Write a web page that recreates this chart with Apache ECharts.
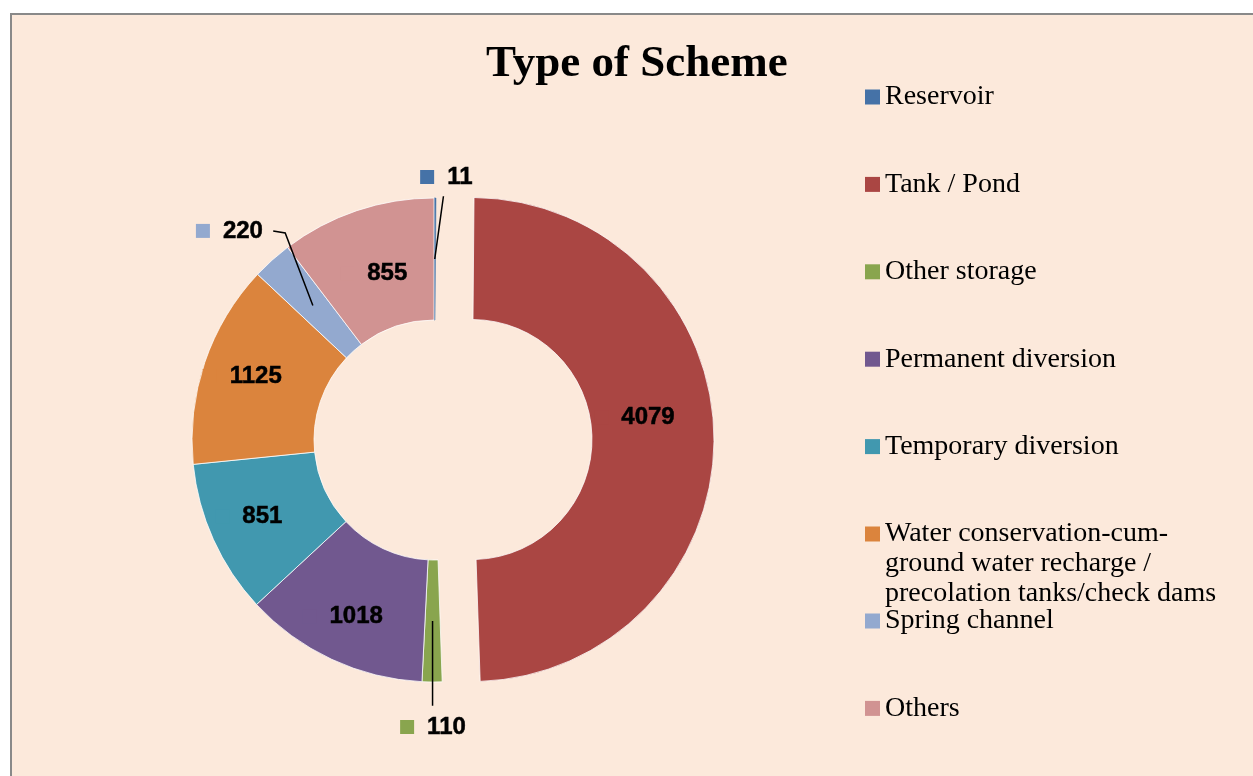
<!DOCTYPE html>
<html>
<head>
<meta charset="utf-8">
<title>Type of Scheme</title>
<script src="https://cdn.jsdelivr.net/npm/echarts@6/dist/echarts.min.js"></script>
<style>
  html, body { margin: 0; padding: 0; background: #ffffff; overflow: hidden; }
  #frame {
    position: absolute; left: 10px; top: 13px; width: 1300px; height: 800px;
    background: #fce9db; border: 2px solid #898989; box-sizing: border-box;
  }
  #chart { position: absolute; left: 0; top: 0; width: 1253px; height: 776px; }
</style>
</head>
<body>
<div id="frame"></div>
<div id="chart"></div>
<script>
// Scheme categories and counts
const categories = [
  'Reservoir',
  'Tank / Pond',
  'Other storage',
  'Permanent diversion',
  'Temporary diversion',
  'Water conservation-cum-ground water recharge / precolation tanks/check dams',
  'Spring channel',
  'Others'
];
const counts = [11, 4079, 110, 1018, 851, 1125, 220, 855];
const colors = ['#4572a7', '#aa4643', '#89a54e', '#71588f', '#4198af', '#db843d', '#93a9cf', '#d19392'];
// Legend text with manual line breaks for the long category; the two leading
// blank lines keep the swatch level with the first line of text
const legendText = {
  'Water conservation-cum-ground water recharge / precolation tanks/check dams':
    '\n\nWater conservation-cum-\nground water recharge /\nprecolation tanks/check dams'
};
// Small slices get their value placed outside with a leader line:
// 'top' = label sits above the line, 'bottom' = below it, 'left' = to its left
const outsideSide = ['top', null, 'bottom', null, null, null, 'left', null];
// Fine placement of each value label relative to its default spot [dx, dy]
const labelNudge = [[-28, 9], [-8, -20], [47, 15], [0, 10], [-4, 1], [-4, -5], [24, -7], [12, 8]];
const explodedSlice = 'Tank / Pond';

const PIE_CENTER = [434, 440];
const PIE_RADIUS = [120, 242];

const total = counts.reduce((a, b) => a + b, 0);
// mid angle of each slice (degrees clockwise from 12 o'clock)
const midAngle = counts.map((v, i) => {
  const before = counts.slice(0, i).reduce((a, b) => a + b, 0);
  return (before + v / 2) / total * 360;
});

const labelFont = {
  fontFamily: 'Liberation Sans', fontWeight: 'bold', fontSize: 24, color: '#000',
  textBorderColor: '#000', textBorderWidth: 0.5
};

function richFor(i) {
  return {
    k: { width: 14, height: 14, backgroundColor: colors[i] },
    v: Object.assign({ padding: [0, 0, 0, 13] }, labelFont),
    s: { width: 27, height: 14 }
  };
}

// Ring with the values of the larger slices written inside
const ringData = categories.map((name, i) => ({
  name,
  value: counts[i],
  selected: name === explodedSlice,
  // the very thin first slice keeps its own colour at the edges
  itemStyle: i === 0 ? { color: colors[i], borderColor: colors[i], borderWidth: 0.5 } : { color: colors[i] },
  label: {
    show: outsideSide[i] === null,
    position: 'inside',
    formatter: '{k|}{v|{c}}{s|}',
    rich: richFor(i)
  }
}));

// Same ring, drawn invisibly on top, carrying the outside labels and leader lines
const calloutData = categories.map((name, i) => ({
  name,
  value: counts[i],
  selected: name === explodedSlice,
  itemStyle: { color: 'rgba(0,0,0,0)' },
  label: {
    show: outsideSide[i] !== null,
    position: 'outside',
    formatter: '{k|}{v|{c}}',
    rich: richFor(i)
  },
  labelLine: { show: outsideSide[i] !== null }
}));

// leader line from the middle of the ring to the label
function leaderLine(i, rect) {
  const a = midAngle[i] * Math.PI / 180;
  const rMid = (PIE_RADIUS[0] + PIE_RADIUS[1]) / 2;
  const start = [PIE_CENTER[0] + rMid * Math.sin(a), PIE_CENTER[1] - rMid * Math.cos(a)];
  const cx = rect.x + rect.width / 2;
  const cy = rect.y + rect.height / 2;
  let end, elbow;
  if (outsideSide[i] === 'top') {
    end = [cx - 3, rect.y + rect.height + 7];
    elbow = [(start[0] + end[0]) / 2, (start[1] + end[1]) / 2];
  } else if (outsideSide[i] === 'bottom') {
    end = [start[0], rect.y - 9];
    elbow = [start[0], (start[1] + end[1]) / 2];
  } else {
    end = [rect.x + rect.width + 10, cy];
    elbow = [rect.x + rect.width + 22, cy + 2];
  }
  return [start, elbow, end];
}

const chart = echarts.init(document.getElementById('chart'), null, { renderer: 'canvas' });

function makeLegend(top, names) {
  return {
    orient: 'vertical',
    left: 865,
    top,
    padding: 0,
    itemWidth: 15,
    itemHeight: 15,
    itemGap: 57.4,
    icon: 'rect',
    itemStyle: { borderWidth: 0 },
    selectedMode: false,
    formatter: name => legendText[name] || name,
    textStyle: {
      fontFamily: 'Liberation Serif',
      fontSize: 28,
      color: '#000',
      lineHeight: 30
    },
    data: names
  };
}

const pieCommon = {
  type: 'pie',
  center: PIE_CENTER,
  radius: PIE_RADIUS,
  startAngle: 90,
  clockwise: true,
  selectedMode: 'multiple',
  selectedOffset: 38,
  avoidLabelOverlap: false,
  emphasis: { disabled: true },
  labelLayout: params => {
    const i = params.dataIndex;
    const [dx, dy] = labelNudge[i];
    const out = { dx, dy };
    if (outsideSide[i] !== null) {
      const r = params.labelRect;
      out.labelLinePoints = leaderLine(i, { x: r.x + dx, y: r.y + dy, width: r.width, height: r.height });
    }
    return out;
  }
};

chart.setOption({
  backgroundColor: 'transparent',
  animation: false,
  title: {
    text: 'Type of Scheme',
    left: 486,
    top: 42,
    padding: 0,
    textStyle: { fontFamily: 'Liberation Serif', fontWeight: 'bold', fontSize: 45, color: '#000' }
  },
  legend: [
    makeLegend(82, categories.slice(0, 5)),
    makeLegend(459, categories.slice(5, 6)),
    makeLegend(606, categories.slice(6))
  ],
  series: [
    Object.assign({}, pieCommon, {
      name: 'ring',
      z: 2,
      itemStyle: { borderColor: 'rgba(255,255,255,0.75)', borderWidth: 1 },
      label: { color: '#000' },
      labelLine: { show: false },
      data: ringData
    }),
    Object.assign({}, pieCommon, {
      name: 'callouts',
      z: 3,
      silent: true,
      itemStyle: { borderWidth: 0 },
      label: { color: '#000' },
      labelLine: {
        show: true,
        length: 30,
        length2: 8,
        lineStyle: { color: '#000', width: 1.5 }
      },
      data: calloutData
    })
  ]
});
</script>
</body>
</html>
